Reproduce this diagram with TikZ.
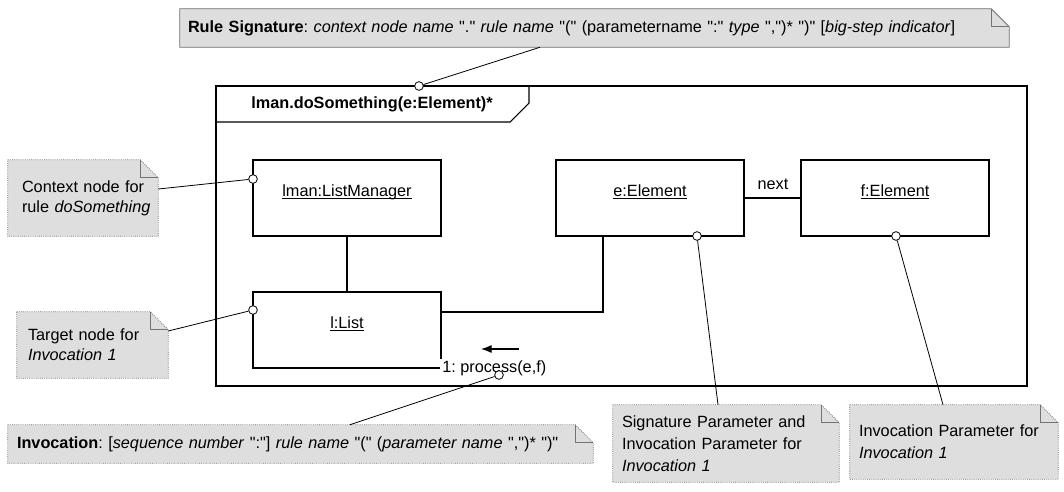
\documentclass[tikz,border=0pt]{standalone}
\usepackage{fontspec}
\setmainfont{Liberation Sans}[Ligatures=TeXOff]
\usetikzlibrary{arrows.meta,backgrounds,calc}
\newcommand\objname[1]{\underline{\smash{#1}}}
\newcommand\dq{\symbol{34}}
\frenchspacing
\begin{document}
\begin{tikzpicture}[x=0.75pt,y=-0.75pt,
  font=\fontsize{12.2}{15}\selectfont,
  obj/.style={draw, line width=0.8pt, minimum width=141pt, minimum height=57pt, inner sep=0pt},
  note/.style={inner ysep=0pt, align=left},
  pinc/.style={circle, draw, fill=white, inner sep=0pt, minimum size=6.5pt, line width=0.6pt},
  conn/.style={line width=0.6pt},
  notefill/.style={fill=black!13},
  noteline/.style={draw=black!55, line width=0.6pt}
]
\useasboundingbox (0,0) rectangle (1064,492);

% frame
\node[draw, line width=0.9pt, minimum width=608.25pt, minimum height=225pt, inner sep=0pt] (frame) at (621.5,236) {};
\draw[line width=0.8pt] (216,122) -- (510,122) -- (529,103) -- (529,86);
\node[font=\fontsize{12.2}{15}\selectfont\bfseries] (title) at (372,104) {lman.doSomething(e:Element)*};

% objects
\node[obj] (lm) at (347,198) {\objname{lman:ListManager}};
\node[obj] (list) at (347,330) {\objname{l:List}};
\node[obj] (e) at (650,198) {\objname{e:Element}};
\node[obj] (f) at (895,198) {\objname{f:Element}};

\draw[line width=1.5pt] (lm.south) -- (list.north);
\draw[line width=0.8pt] (e.east) -- (f.west);
\node (next) at (773,184) {next};
\draw[line width=0.8pt] ([yshift=13.5pt]list.east) -| ([xshift=-35.25pt]e.south);

\node[fill=white, inner xsep=1.5pt, inner ysep=1pt, anchor=west] (proc) at (440,368) {1: process(e,f)};
\coordinate (a1) at (519,349);
\coordinate (a2) at (481,349);
\draw[line width=0.8pt, -{Latex[length=8pt,width=6pt]}] (a1) -- (a2);

% notes
\node[note, inner xsep=6pt, text width=609.75pt, minimum height=28.5pt] (sig) at (594.5,28)
 {\mbox{\textbf{Rule Signature}: \textit{context node name} \dq.\dq{} \textit{rule name} \dq(\dq{} (parametername \dq:\dq{} \textit{type} \dq,\dq)* \dq)\dq{} [\textit{big-step indicator}]}};
\node[note, inner xsep=10.5pt, text width=91.5pt, minimum height=57pt] (ctx) at (83,198)
 {\mbox{Context node for}\\\mbox{rule \textit{doSomething}}};
\node[note, inner xsep=8.25pt, text width=96.75pt, minimum height=49.5pt] (tgt) at (92.5,345)
 {\mbox{Target node for}\\\mbox{\textit{Invocation 1}}};
\node[note, inner xsep=6.75pt, text width=425.25pt, minimum height=28.5pt] (inv) at (300.5,444)
 {\mbox{\textbf{Invocation}: [\textit{sequence number} \dq:\dq] \textit{rule name} \dq(\dq{} (\textit{parameter name} \dq,\dq)* \dq)\dq}};
\node[note, inner xsep=6.75pt, text width=156pt, minimum height=57.75pt, font=\fontsize{12.2}{16.5}\selectfont] (spar) at (726,443.5)
 {\mbox{Signature Parameter and}\\\mbox{Invocation Parameter for}\\\mbox{\textit{Invocation 1}}};
\node[note, inner xsep=6.75pt, text width=142.5pt, minimum height=55.5pt, font=\fontsize{12.2}{16.5}\selectfont] (ipar) at (954,442)
 {\mbox{Invocation Parameter for}\\\mbox{\textit{Invocation 1}}};

\begin{scope}[on background layer]
  \filldraw[notefill, noteline] (sig.north west) -- ([xshift=-13.5pt]sig.north east) -- ([yshift=-13.5pt]sig.north east) -- (sig.south east) -- (sig.south west) -- cycle;
  \draw[noteline] ([xshift=-13.5pt]sig.north east) |- ([yshift=-13.5pt]sig.north east);
  \foreach \n in {ctx,tgt,inv,spar,ipar} {
    \filldraw[notefill, noteline, densely dotted] (\n.north west) -- ([xshift=-13.5pt]\n.north east) -- ([yshift=-13.5pt]\n.north east) -- (\n.south east) -- (\n.south west) -- cycle;
    \draw[noteline, line width=0.5pt] ([xshift=-13.5pt]\n.north east) |- ([yshift=-13.5pt]\n.north east);
  }
\end{scope}

% pins and connectors
\node[pinc] (p1) at (253,179) {};
\node[pinc] (p2) at (253,310) {};
\node[pinc] (p3) at (419,86) {};
\node[pinc] (p4) at (499,375) {};
\node[pinc] (p5) at (697,236) {};
\node[pinc] (p6) at (896,236) {};

\draw[conn] (p1) -- ([yshift=6.75pt]ctx.east);
\draw[conn] (p2) -- ([yshift=10.5pt]tgt.east);
\draw[conn] (p3) -- ([xshift=-40.9pt]sig.south);
\draw[conn] (p4) -- ([xshift=37.1pt]inv.north);
\draw[conn] (p5) -- ([xshift=-6pt]spar.north);
\draw[conn] (p6) -- ([xshift=-8.25pt]ipar.north);
\end{tikzpicture}
\end{document}
